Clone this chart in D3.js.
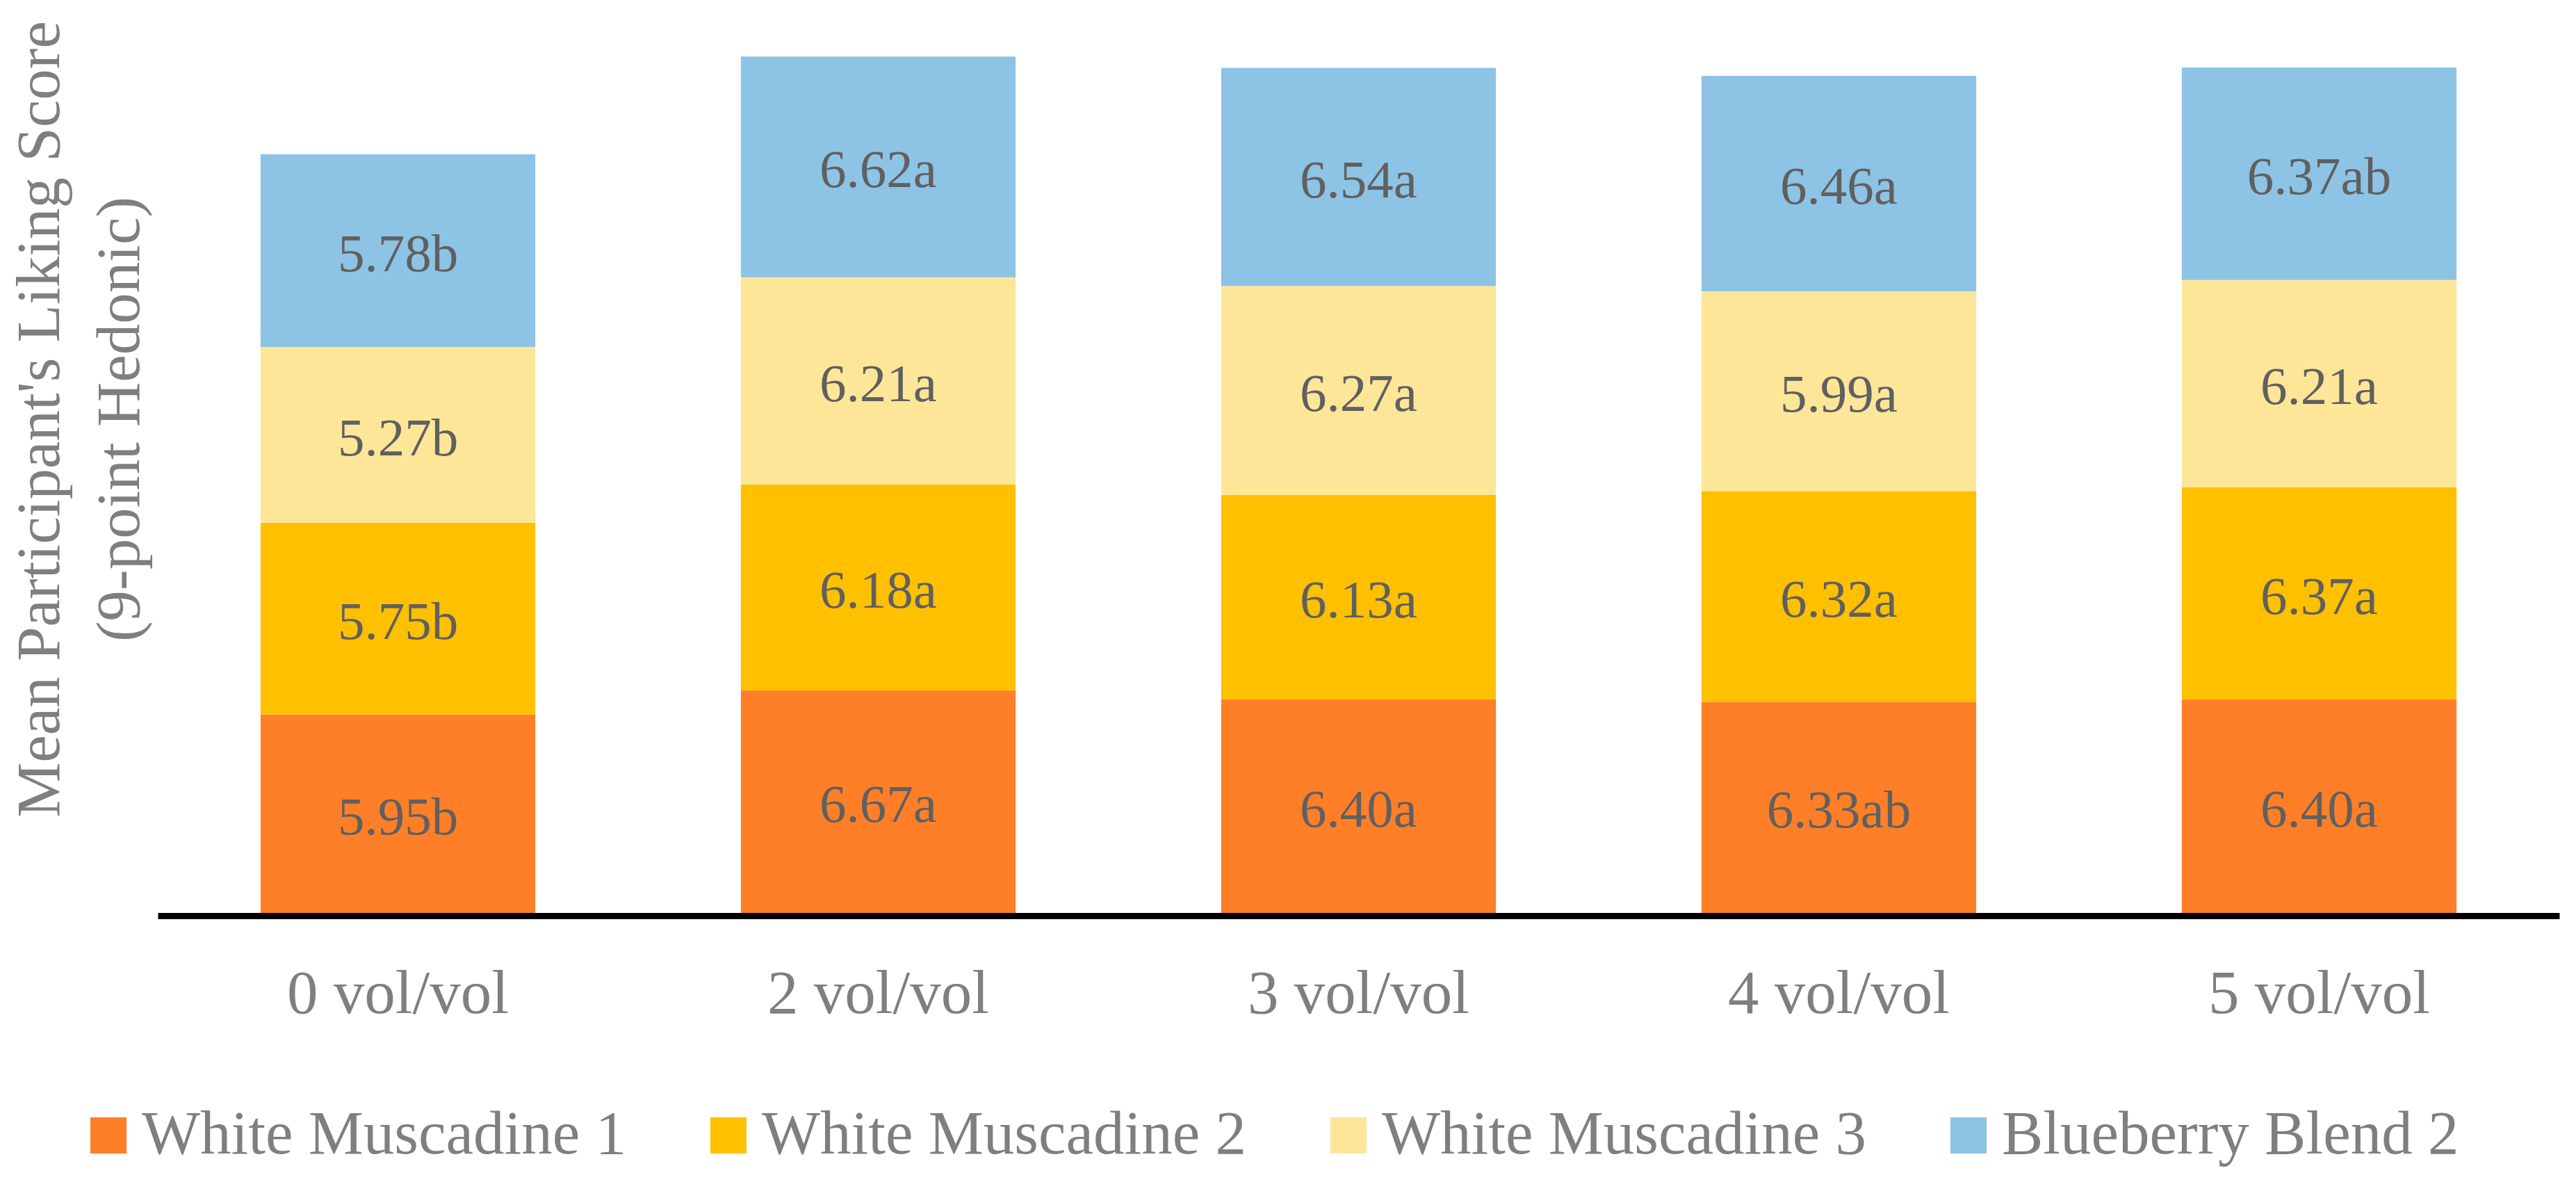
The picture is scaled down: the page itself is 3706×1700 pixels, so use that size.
<!DOCTYPE html>
<html>
<head>
<meta charset="utf-8">
<script src="https://cdn.jsdelivr.net/npm/d3@7"></script>
<style>
  body { margin: 0; background: #fff; }
  text { font-family: "Palatino Linotype", "Book Antiqua", Palatino, "Liberation Serif", serif; }
</style>
</head>
<body>
<div class="container__chart"></div>
<script>
// data
const categories = ["0 vol/vol", "2 vol/vol", "3 vol/vol", "4 vol/vol", "5 vol/vol"];
const seriesNames = ["White Muscadine 1", "White Muscadine 2", "White Muscadine 3", "Blueberry Blend 2"];
const whiteMuscadine1 = [5.95, 6.67, 6.40, 6.33, 6.40];
const whiteMuscadine2 = [5.75, 6.18, 6.13, 6.32, 6.37];
const whiteMuscadine3 = [5.27, 6.21, 6.27, 5.99, 6.21];
const blueberryBlend2 = [5.78, 6.62, 6.54, 6.46, 6.37];
const letters1 = ["b", "a", "a", "ab", "a"];
const letters2 = ["b", "a", "a", "a", "a"];
const letters3 = ["b", "a", "a", "a", "a"];
const letters4 = ["b", "a", "a", "a", "ab"];
const colors = ["#FE7F27", "#FFC000", "#FEE699", "#8DC3E5"];

const CHART_WIDTH = 3706;
const CHART_HEIGHT = 1700;
const BASE_Y = 1313;

const allValues = [whiteMuscadine1, whiteMuscadine2, whiteMuscadine3, blueberryBlend2];
const allLetters = [letters1, letters2, letters3, letters4];

// table for d3.stack
const table = categories.map((c, i) => {
    const row = { cat: c };
    seriesNames.forEach((s, j) => row[s] = allValues[j][i]);
    return row;
});
const stacked = d3.stack().keys(seriesNames)(table);

const xScale = d3.scaleBand().domain(categories).range([227, 3682]).paddingInner(0.428).paddingOuter(0.214);
const yScale = d3.scaleLinear().domain([0, 27]).range([BASE_Y, 18]);

const svg = d3.select(".container__chart")
    .append("svg")
    .attr("width", CHART_WIDTH)
    .attr("height", CHART_HEIGHT)
    .style("background-color", "#fff");

// bars
const layers = svg.append("g").selectAll("g")
    .data(stacked)
    .enter()
    .append("g")
    .attr("fill", (d, i) => colors[i]);

layers.selectAll("rect")
    .data(d => d)
    .enter()
    .append("rect")
    .attr("x", d => xScale(d.data.cat))
    .attr("width", xScale.bandwidth())
    .attr("y", d => yScale(d[1]))
    .attr("height", d => yScale(d[0]) - yScale(d[1]));

// data labels
stacked.forEach((layer, j) => {
    svg.append("g").selectAll("text")
        .data(layer)
        .enter()
        .append("text")
        .attr("x", d => xScale(d.data.cat) + xScale.bandwidth() / 2)
        .attr("y", d => (yScale(d[0]) + yScale(d[1])) / 2)
        .attr("dy", "0.38em")
        .attr("text-anchor", "middle")
        .style("font-size", "77px")
        .style("fill", "#606060")
        .text((d, i) => allValues[j][i].toFixed(2) + allLetters[j][i]);
});

// x-axis
const xAxis = svg.append("g")
    .attr("transform", `translate(0,${BASE_Y + 4})`)
    .call(d3.axisBottom(xScale).tickSize(0).tickPadding(140));
xAxis.select(".domain")
    .attr("stroke", "#000")
    .attr("stroke-width", 9);
xAxis.selectAll(".tick text")
    .style("font-size", "89px")
    .style("fill", "#7F7F7F")
    .attr("dy", "0");

// y-axis title
const yTitle = svg.append("text")
    .attr("transform", "translate(85,603) rotate(-90)")
    .attr("text-anchor", "middle")
    .style("font-size", "89px")
    .style("fill", "#7F7F7F");
yTitle.append("tspan").attr("x", 0).attr("y", 0).text("Mean Participant's Liking Score");
yTitle.append("tspan").attr("x", 0).attr("y", 115).text("(9-point Hedonic)");

// legend
const legend = svg.append("g").selectAll("g")
    .data(seriesNames)
    .enter()
    .append("g")
    .attr("transform", (d, i) => `translate(${130 + i * 892},1659)`);

legend.append("rect")
    .attr("x", 0)
    .attr("y", -52)
    .attr("width", 52)
    .attr("height", 52)
    .attr("fill", (d, i) => colors[i]);

legend.append("text")
    .attr("x", 74)
    .attr("y", 0)
    .style("font-size", "89px")
    .style("fill", "#7F7F7F")
    .text(d => d);
</script>
</body>
</html>
